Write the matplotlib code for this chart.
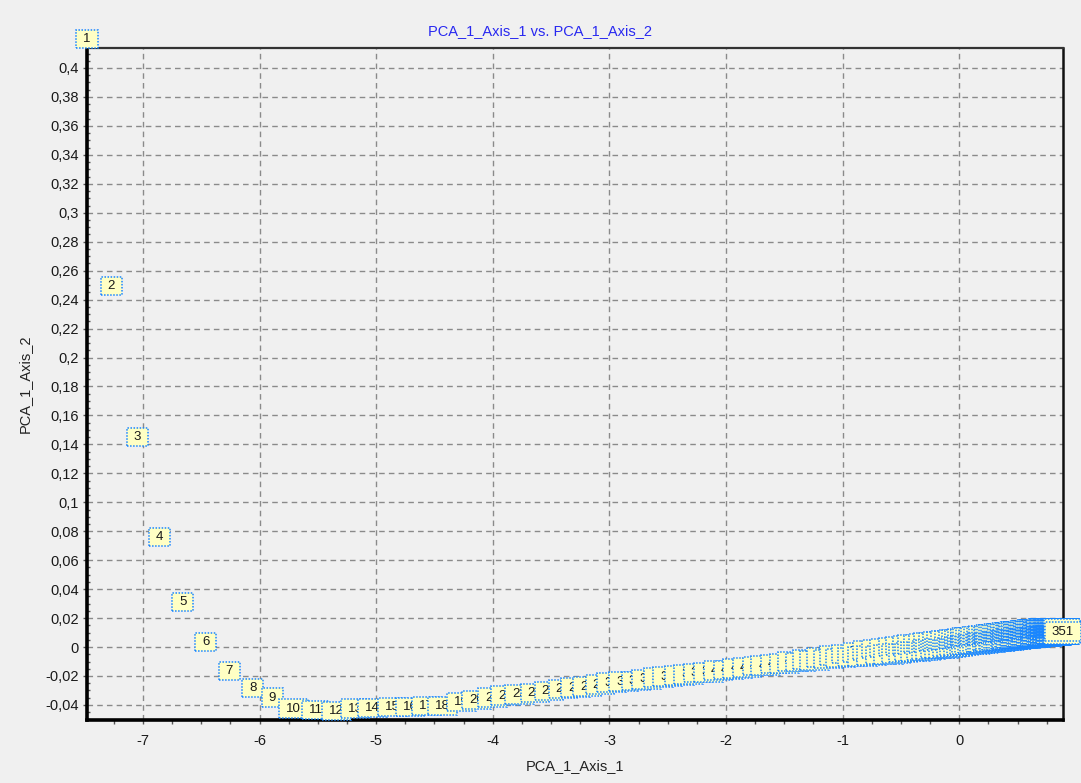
import matplotlib
matplotlib.use("Agg")
import matplotlib.pyplot as plt
from matplotlib.path import Path
from matplotlib.ticker import MultipleLocator, FuncFormatter

plt.rcParams['font.family'] = ['Liberation Sans', 'DejaVu Sans']
plt.rcParams['axes.unicode_minus'] = False

# PCA scores, one point per observation (1..351)
axis1 = [
    -7.48, -7.27, -7.05, -6.86, -6.66, -6.46, -6.26, -6.06, -5.89, -5.71,
    -5.52, -5.34, -5.18, -5.03, -4.86, -4.71, -4.57, -4.43, -4.27, -4.14,
    -4.00, -3.89, -3.77, -3.64, -3.52, -3.40, -3.29, -3.19, -3.08, -2.98,
    -2.88, -2.77, -2.68, -2.58, -2.50, -2.40, -2.32, -2.24, -2.15, -2.07,
    -1.98, -1.90, -1.82, -1.73, -1.66, -1.58, -1.50, -1.43, -1.36, -1.30,
    -1.24, -1.18, -1.12, -1.07, -1.02, -0.97, -0.92, -0.875, -0.83, -0.79,
    -0.75, -0.71, -0.675, -0.64, -0.605, -0.57, -0.54, -0.51, -0.48, -0.45,
    -0.425, -0.40, -0.375, -0.35, -0.33, -0.31, -0.285, -0.265, -0.245, -0.225,
    -0.205, -0.19, -0.17, -0.155, -0.135, -0.12, -0.10, -0.085, -0.07, -0.055,
    -0.04, -0.025, -0.012, 0.002, 0.015, 0.028, 0.042, 0.055, 0.067, 0.08,
    0.092, 0.104, 0.116, 0.128, 0.14, 0.151, 0.162, 0.173, 0.184, 0.195,
    0.206, 0.216, 0.226, 0.236, 0.246, 0.256, 0.266, 0.275, 0.284, 0.293,
    0.302, 0.311, 0.32, 0.328, 0.336, 0.344, 0.352, 0.36, 0.368, 0.375,
    0.382, 0.389, 0.396, 0.403, 0.41, 0.417, 0.424, 0.43, 0.436, 0.442,
    0.448, 0.454, 0.46, 0.466, 0.472, 0.477, 0.482, 0.487, 0.492, 0.497,
    0.502, 0.507, 0.512, 0.517, 0.521, 0.525, 0.53, 0.534, 0.538, 0.542,
    0.546, 0.55, 0.554, 0.558, 0.562, 0.566, 0.57, 0.573, 0.577, 0.581,
    0.584, 0.588, 0.591, 0.595, 0.598, 0.602, 0.605, 0.608, 0.612, 0.615,
    0.618, 0.621, 0.624, 0.627, 0.63, 0.633, 0.636, 0.639, 0.642, 0.645,
    0.648, 0.651, 0.654, 0.656, 0.659, 0.662, 0.664, 0.667, 0.67, 0.672,
    0.675, 0.677, 0.68, 0.682, 0.685, 0.687, 0.69, 0.692, 0.694, 0.697,
    0.699, 0.701, 0.704, 0.706, 0.708, 0.71, 0.712, 0.715, 0.717, 0.719,
    0.721, 0.723, 0.725, 0.727, 0.729, 0.731, 0.733, 0.735, 0.737, 0.739,
    0.741, 0.743, 0.744, 0.746, 0.748, 0.75, 0.752, 0.753, 0.755, 0.757,
    0.758, 0.76, 0.762, 0.763, 0.765, 0.766, 0.768, 0.77, 0.771, 0.773,
    0.774, 0.776, 0.777, 0.779, 0.78, 0.781, 0.783, 0.784, 0.786, 0.787,
    0.788, 0.79, 0.791, 0.792, 0.794, 0.795, 0.796, 0.797, 0.799, 0.8,
    0.801, 0.802, 0.803, 0.805, 0.806, 0.807, 0.808, 0.809, 0.81, 0.811,
    0.812, 0.813, 0.815, 0.816, 0.817, 0.818, 0.819, 0.82, 0.821, 0.822,
    0.823, 0.824, 0.825, 0.826, 0.827, 0.828, 0.829, 0.83, 0.831, 0.832,
    0.833, 0.834, 0.835, 0.836, 0.837, 0.838, 0.839, 0.84, 0.841, 0.842,
    0.843, 0.844, 0.845, 0.846, 0.847, 0.848, 0.849, 0.85, 0.851, 0.852,
    0.853, 0.854, 0.855, 0.856, 0.857, 0.858, 0.859, 0.86, 0.861, 0.862,
    0.863, 0.864, 0.865, 0.866, 0.867, 0.868, 0.869, 0.87, 0.871, 0.872,
    0.873, 0.874, 0.875, 0.876, 0.877, 0.878, 0.879, 0.88, 0.881, 0.882,
    0.89,
]

axis2 = [
    0.4138, 0.2432, 0.1389, 0.0698, 0.0249, -0.0028, -0.0228, -0.0345, -0.0411, -0.0487,
    -0.0497, -0.0504, -0.0487, -0.0484, -0.0477, -0.0477, -0.0470, -0.0470, -0.0442, -0.0428,
    -0.0411, -0.0398, -0.0390, -0.0380, -0.0366, -0.0352, -0.0342, -0.0335, -0.0321, -0.0309,
    -0.0302, -0.0296, -0.0285, -0.0274, -0.0267, -0.0260, -0.0250, -0.0241, -0.0236, -0.0226,
    -0.0220, -0.0209, -0.0205, -0.0193, -0.0190, -0.0178, -0.0177, -0.0162, -0.0165, -0.0148,
    -0.0156, -0.0135, -0.0146, -0.0122, -0.0139, -0.0110, -0.0132, -0.0099, -0.0127, -0.0088,
    -0.0122, -0.0077, -0.0118, -0.0070, -0.0113, -0.0062, -0.0108, -0.0056, -0.0103, -0.0050,
    -0.0097, -0.0045, -0.0093, -0.0040, -0.0089, -0.0036, -0.0085, -0.0031, -0.0081, -0.0028,
    -0.0077, -0.0024, -0.0074, -0.0021, -0.0071, -0.0018, -0.0068, -0.0015, -0.0064, -0.0012,
    -0.0061, -0.0009, -0.0058, -0.0006, -0.0055, -0.0003, -0.0052, 0.0000, -0.0049, 0.0002,
    -0.0045, 0.0004, -0.0043, 0.0006, -0.0040, 0.0008, -0.0038, 0.0011, -0.0036, 0.0013,
    -0.0034, 0.0015, -0.0032, 0.0017, -0.0030, 0.0019, -0.0028, 0.0021, -0.0027, 0.0023,
    -0.0025, 0.0025, -0.0023, 0.0027, -0.0022, 0.0028, -0.0020, 0.0030, -0.0019, 0.0031,
    -0.0017, 0.0033, -0.0016, 0.0034, -0.0015, 0.0036, -0.0013, 0.0037, -0.0012, 0.0038,
    -0.0011, 0.0040, -0.0010, 0.0041, -0.0009, 0.0042, -0.0008, 0.0043, -0.0007, 0.0044,
    -0.0006, 0.0045, -0.0005, 0.0046, -0.0005, 0.0046, -0.0004, 0.0047, -0.0003, 0.0048,
    -0.0003, 0.0048, -0.0002, 0.0049, -0.0001, 0.0050, -0.0001, 0.0050, 0.0000, 0.0051,
    0.0001, 0.0052, 0.0001, 0.0052, 0.0002, 0.0053, 0.0002, 0.0054, 0.0003, 0.0054,
    0.0003, 0.0055, 0.0004, 0.0055, 0.0004, 0.0056, 0.0005, 0.0056, 0.0005, 0.0057,
    0.0006, 0.0057, 0.0006, 0.0058, 0.0007, 0.0058, 0.0007, 0.0059, 0.0008, 0.0059,
    0.0008, 0.0060, 0.0008, 0.0060, 0.0009, 0.0060, 0.0009, 0.0061, 0.0009, 0.0061,
    0.0010, 0.0061, 0.0010, 0.0062, 0.0010, 0.0062, 0.0011, 0.0062, 0.0011, 0.0062,
    0.0011, 0.0063, 0.0012, 0.0063, 0.0012, 0.0063, 0.0012, 0.0063, 0.0013, 0.0064,
    0.0013, 0.0064, 0.0013, 0.0064, 0.0014, 0.0064, 0.0014, 0.0064, 0.0014, 0.0065,
    0.0015, 0.0065, 0.0015, 0.0065, 0.0015, 0.0065, 0.0016, 0.0065, 0.0016, 0.0065,
    0.0016, 0.0065, 0.0016, 0.0065, 0.0017, 0.0065, 0.0017, 0.0066, 0.0017, 0.0066,
    0.0017, 0.0066, 0.0018, 0.0066, 0.0018, 0.0066, 0.0018, 0.0066, 0.0018, 0.0066,
    0.0018, 0.0066, 0.0019, 0.0066, 0.0019, 0.0066, 0.0019, 0.0066, 0.0019, 0.0066,
    0.0019, 0.0066, 0.0019, 0.0066, 0.0020, 0.0066, 0.0020, 0.0066, 0.0020, 0.0066,
    0.0020, 0.0066, 0.0020, 0.0066, 0.0020, 0.0066, 0.0020, 0.0066, 0.0020, 0.0066,
    0.0020, 0.0066, 0.0021, 0.0066, 0.0021, 0.0066, 0.0021, 0.0066, 0.0021, 0.0066,
    0.0021, 0.0066, 0.0021, 0.0066, 0.0021, 0.0066, 0.0021, 0.0066, 0.0021, 0.0066,
    0.0021, 0.0066, 0.0022, 0.0066, 0.0022, 0.0066, 0.0022, 0.0066, 0.0022, 0.0066,
    0.0022, 0.0066, 0.0022, 0.0066, 0.0022, 0.0066, 0.0022, 0.0066, 0.0022, 0.0066,
    0.0022, 0.0066, 0.0022, 0.0066, 0.0022, 0.0066, 0.0022, 0.0066, 0.0022, 0.0066,
    0.0045,
]

point_ids = [str(i) for i in range(1, len(axis1) + 1)]

x_ticks = [-7, -6, -5, -4, -3, -2, -1, 0]
y_ticks = [-0.04, -0.02, 0, 0.02, 0.04, 0.06, 0.08, 0.1, 0.12, 0.14, 0.16, 0.18,
           0.2, 0.22, 0.24, 0.26, 0.28, 0.3, 0.32, 0.34, 0.36, 0.38, 0.4]


def label_box(x0, y0, width, height, mutation_size):
    # wide rectangle around each point label
    padx = 0.52 * mutation_size
    pady = 0.25 * mutation_size
    x0, y0 = x0 - padx, y0 - pady
    x1, y1 = x0 + width + 2 * padx, y0 + height + 2 * pady
    return Path([(x0, y0), (x1, y0), (x1, y1), (x0, y1), (x0, y0)], closed=True)


def comma_fmt(v, pos):
    v = round(v, 3)
    if v == 0:
        return "0"
    return f"{v:g}".replace(".", ",")


bg = "#f0f0f0"
fig = plt.figure(figsize=(10.81, 7.83), dpi=100, facecolor=bg)
ax = fig.add_axes([87 / 1081, 63 / 783, 976 / 1081, 672 / 783], facecolor=bg)

ax.set_xlim(min(axis1), max(axis1))
ax.set_ylim(min(axis2), max(axis2))

ax.set_axisbelow(True)
ax.grid(True, which="major", color="#8a8a8a", linestyle=(0, (4, 3)), linewidth=1)

ax.set_xticks(x_ticks)
ax.set_yticks(y_ticks)
ax.xaxis.set_minor_locator(MultipleLocator(0.25))
ax.yaxis.set_minor_locator(MultipleLocator(0.005))
ax.yaxis.set_major_formatter(FuncFormatter(comma_fmt))
ax.tick_params(which="major", length=3, width=1, color="#555555", labelsize=10.5,
               labelcolor="#1a1a1a")
ax.tick_params(axis="x", which="major", pad=7)
ax.tick_params(axis="y", which="major", pad=3)
ax.tick_params(axis="x", which="minor", length=3, width=1, color="#555555")
ax.tick_params(axis="y", which="minor", direction="in", length=2, width=1, color="#555555")

for side in ("left", "bottom"):
    ax.spines[side].set_linewidth(2.6)
    ax.spines[side].set_color("black")
ax.spines["right"].set_linewidth(1.8)
ax.spines["right"].set_color("#111111")
ax.spines["top"].set_linewidth(1.6)
ax.spines["top"].set_color("#333333")

# point labels: numbered boxes sitting just above each score
for xv, yv, lab in zip(axis1, axis2, point_ids):
    ax.annotate(lab, (xv, yv), xytext=(0, 9), textcoords="offset pixels",
                ha="center", va="center", fontsize=9.5, color="#1a1a1a",
                annotation_clip=False,
                bbox=dict(boxstyle=label_box, facecolor="#ffffc4",
                          edgecolor="#1a86ff", linestyle=(0, (1, 1)), linewidth=1.1))

ax.set_xlabel("PCA_1_Axis_1", fontsize=10.5, color="#222222")
ax.set_ylabel("PCA_1_Axis_2", fontsize=10.5, color="#222222")
ax.xaxis.set_label_coords(0.5, (720 - 759) / 672)
ax.yaxis.set_label_coords((32 - 87) / 976, 0.5)
fig.text(0.5, 1 - 31 / 783, "PCA_1_Axis_1 vs. PCA_1_Axis_2", ha="center", va="center",
         fontsize=10.5, color="#2828f0")

fig.savefig("out.png", dpi=100, facecolor=bg)
